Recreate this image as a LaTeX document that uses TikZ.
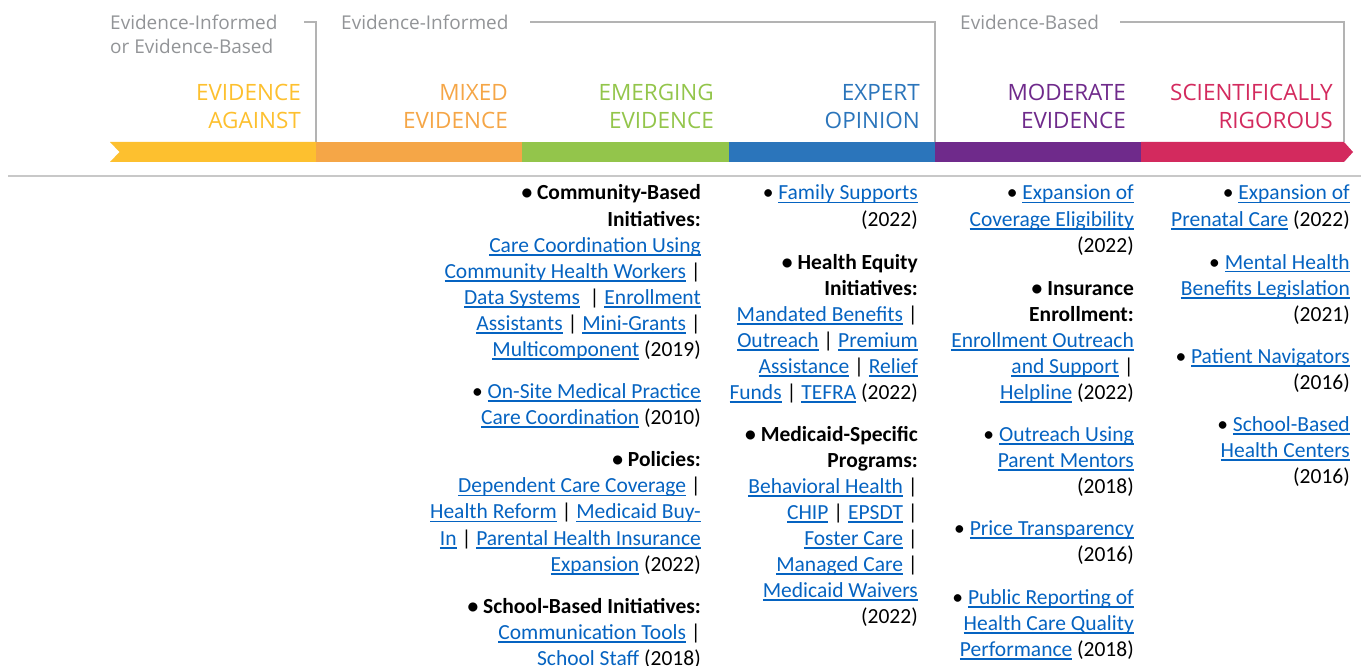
\documentclass[tikz,border=0pt]{standalone}
\usepackage{fontspec}
\setmainfont{Carlito}
\newfontfamily\hdfont{Open Sans}
\definecolor{cY}{HTML}{FDC02F}
\definecolor{cO}{HTML}{F5A647}
\definecolor{cG}{HTML}{93C54B}
\definecolor{cB}{HTML}{2B75BB}
\definecolor{cP}{HTML}{6F2A8B}
\definecolor{cR}{HTML}{D32A5E}
\definecolor{hdgray}{HTML}{929497}
\definecolor{lngray}{HTML}{B3B3B3}
\definecolor{sepgray}{HTML}{C8C8C8}
\definecolor{lkblue}{HTML}{0563C1}
\newcommand\lk[1]{\textcolor{lkblue}{\setbox0\hbox{#1}\rlap{\rule[-3.5pt]{\wd0}{1.8pt}}\box0}}
\newcommand\Lrow[4]{\node[bt] (#1) at (#2,#3) {#4};}
\tikzset{
 bt/.style={inner sep=0pt, anchor=base east, font=\fontsize{21.5}{26}\selectfont, text=black},
 cat/.style={inner sep=0pt, anchor=base east, align=right, font=\hdfont\fontsize{22.5}{27.4}\selectfont},
 grp/.style={inner sep=0pt, anchor=base west, align=left, font=\hdfont\fontsize{19}{23.3}\selectfont, text=hdgray},
 brk/.style={draw=lngray, line width=1.8pt},
}
\begin{document}
\begin{tikzpicture}[x=1pt,y=-1pt]
\useasboundingbox (0,0) rectangle (1361,666);
% group headers
\node[grp] (g1) at (110,53.3) {Evidence-Informed\\or Evidence-Based};
\node[grp] (g2) at (341,30) {Evidence-Informed};
\node[grp] (g3) at (960,30) {Evidence-Based};
\coordinate (b1s) at (304,22); \coordinate (b1e) at (316,142);
\coordinate (b2s) at (530,22); \coordinate (b2e) at (935,142);
\coordinate (b3s) at (1120,22); \coordinate (b3e) at (1344,142);
\draw[brk] (b1s) -| (b1e);
\draw[brk] (b2s) -| (b2e);
\draw[brk] (b3s) -| (b3e);
% category labels
\node[cat, text=cY] (k1) at (301,128.3) {EVIDENCE\\AGAINST};
\node[cat, text=cO] (k2) at (508,128.3) {MIXED\\EVIDENCE};
\node[cat, text=cG] (k3) at (714,128.3) {EMERGING\\EVIDENCE};
\node[cat, text=cB] (k4) at (920,128.3) {EXPERT\\OPINION};
\node[cat, text=cP] (k5) at (1126,128.3) {MODERATE\\EVIDENCE};
\node[cat, text=cR] (k6) at (1333,128.3) {SCIENTIFICALLY\\RIGOROUS};
% bar
\fill[cY] (110,142) -- (316.5,142) -- (316.5,162) -- (110,162) -- (119.5,152) -- cycle;
\fill[cO] (316,142) rectangle (522.5,162);
\fill[cG] (522,142) rectangle (729.5,162);
\fill[cB] (729,142) rectangle (935.5,162);
\fill[cP] (935,142) rectangle (1141.5,162);
\fill[cR] (1141,142) -- (1344,142) -- (1353,152) -- (1344,162) -- (1141,162) -- cycle;
% separator
\draw[sepgray, line width=1.3pt] (8,176) -- (1361,176);
% column 1
\Lrow{c1a}{701}{200}{\textbf{• Community-Based}}
\Lrow{c1b}{701}{226.1}{\textbf{Initiatives:}}
\Lrow{c1c}{701}{252.2}{\lk{Care Coordination Using}}
\Lrow{c1d}{701}{278.3}{\lk{Community Health Workers} |}
\Lrow{c1e}{701}{304.4}{\lk{Data Systems} \ | \lk{Enrollment}}
\Lrow{c1f}{701}{330.5}{\lk{Assistants} | \lk{Mini-Grants} |}
\Lrow{c1g}{701}{356.6}{\lk{Multicomponent} (2019)}
\Lrow{c1h}{701}{398.6}{• \lk{On-Site Medical Practice}}
\Lrow{c1i}{701}{424.7}{\lk{Care Coordination} (2010)}
\Lrow{c1j}{701}{466.7}{\textbf{• Policies:}}
\Lrow{c1k}{701}{492.8}{\lk{Dependent Care Coverage} |}
\Lrow{c1l}{701}{518.9}{\lk{Health Reform} | \lk{Medicaid Buy-}}
\Lrow{c1m}{701}{545}{\lk{In} | \lk{Parental Health Insurance}}
\Lrow{c1n}{701}{571.1}{\lk{Expansion} (2022)}
\Lrow{c1o}{701}{613.1}{\textbf{• School-Based Initiatives:}}
\Lrow{c1p}{701}{639.2}{\lk{Communication Tools} |}
\Lrow{c1q}{701}{665.3}{\lk{School Staff} (2018)}
% column 2
\Lrow{c2a}{918}{200}{• \lk{Family Supports}}
\Lrow{c2b}{918}{226}{(2022)}
\Lrow{c2c}{918}{269}{\textbf{• Health Equity}}
\Lrow{c2d}{918}{295}{\textbf{Initiatives:}}
\Lrow{c2e}{918}{321}{\lk{Mandated Benefits} |}
\Lrow{c2f}{918}{347}{\lk{Outreach} | \lk{Premium}}
\Lrow{c2g}{918}{373}{\lk{Assistance} | \lk{Relief}}
\Lrow{c2h}{918}{399}{\lk{Funds} | \lk{TEFRA} (2022)}
\Lrow{c2i}{918}{441}{\textbf{• Medicaid-Specific}}
\Lrow{c2j}{918}{467}{\textbf{Programs:}}
\Lrow{c2k}{918}{493}{\lk{Behavioral Health} |}
\Lrow{c2l}{918}{519}{\lk{CHIP} | \lk{EPSDT} |}
\Lrow{c2m}{918}{545}{\lk{Foster Care} |}
\Lrow{c2n}{918}{571}{\lk{Managed Care} |}
\Lrow{c2o}{918}{597}{\lk{Medicaid Waivers}}
\Lrow{c2p}{918}{623}{(2022)}
% column 3
\Lrow{c3a}{1134}{200}{• \lk{Expansion of}}
\Lrow{c3b}{1134}{226}{\lk{Coverage Eligibility}}
\Lrow{c3c}{1134}{252}{(2022)}
\Lrow{c3d}{1134}{295}{\textbf{• Insurance}}
\Lrow{c3e}{1134}{321}{\textbf{Enrollment:}}
\Lrow{c3f}{1134}{347}{\lk{Enrollment Outreach}}
\Lrow{c3g}{1134}{373}{\lk{and Support} |}
\Lrow{c3h}{1134}{399}{\lk{Helpline} (2022)}
\Lrow{c3i}{1134}{441}{• \lk{Outreach Using}}
\Lrow{c3j}{1134}{467}{\lk{Parent Mentors}}
\Lrow{c3k}{1134}{493}{(2018)}
\Lrow{c3l}{1134}{535}{• \lk{Price Transparency}}
\Lrow{c3m}{1134}{561}{(2016)}
\Lrow{c3n}{1134}{604}{• \lk{Public Reporting of}}
\Lrow{c3o}{1134}{630}{\lk{Health Care Quality}}
\Lrow{c3p}{1134}{656}{\lk{Performance} (2018)}
% column 4
\Lrow{c4a}{1350}{200}{• \lk{Expansion of}}
\Lrow{c4b}{1350}{226}{\lk{Prenatal Care} (2022)}
\Lrow{c4c}{1350}{269}{• \lk{Mental Health}}
\Lrow{c4d}{1350}{295}{\lk{Benefits Legislation}}
\Lrow{c4e}{1350}{321}{(2021)}
\Lrow{c4f}{1350}{363}{• \lk{Patient Navigators}}
\Lrow{c4g}{1350}{389}{(2016)}
\Lrow{c4h}{1350}{431}{• \lk{School-Based}}
\Lrow{c4i}{1350}{457}{\lk{Health Centers}}
\Lrow{c4j}{1350}{483}{(2016)}
\end{tikzpicture}
\end{document}
